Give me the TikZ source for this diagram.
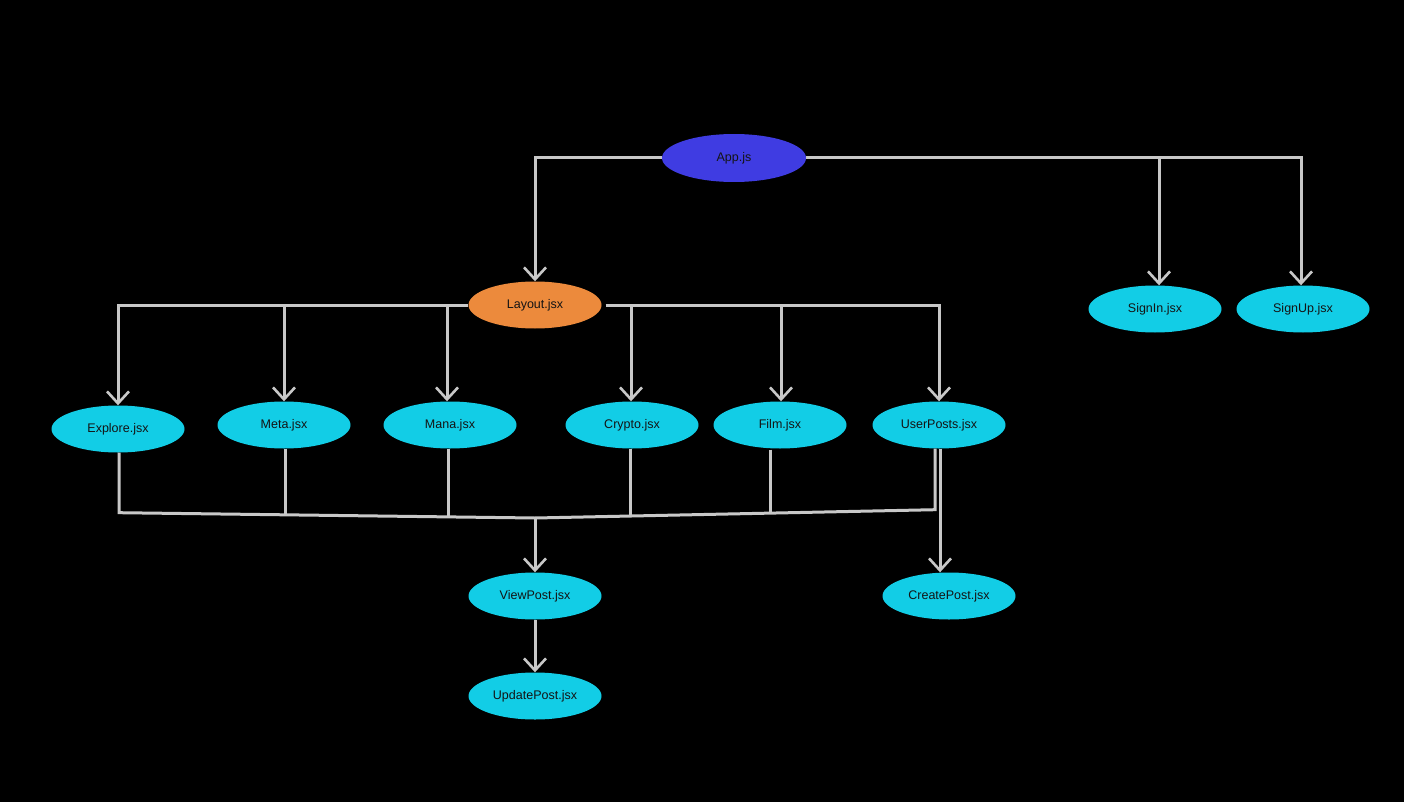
\documentclass[tikz,border=0pt]{standalone}
\usepackage{fontspec}
\setmainfont{Liberation Sans}
\usetikzlibrary{shapes.geometric,arrows.meta,calc}
\definecolor{bgc}{HTML}{000000}
\definecolor{appc}{HTML}{3F3CE2}
\definecolor{layc}{HTML}{EC8A3C}
\definecolor{cyc}{HTML}{12CDE6}
\definecolor{linec}{HTML}{C8C8C8}
\definecolor{txtc}{HTML}{141414}
\begin{document}
\begin{tikzpicture}[x=1pt,y=-1pt,
  comp/.style={ellipse,draw=none,fill=cyc,minimum width=133pt,minimum height=47pt,inner sep=0pt,text=txtc,font=\fontsize{12.5}{14}\selectfont},
  conn/.style={draw=linec,line width=3pt},
  arr/.style={conn,-{Straight Barb[length=12pt,width=22pt,line width=2.6pt]}}]
\useasboundingbox[fill=bgc] (0,0) rectangle (1404,802);
% nodes
\node[comp,fill=appc,minimum width=144pt,minimum height=48pt] (app) at (734,158) {App.js};
\node[comp,fill=layc] (layout) at (535,305) {Layout.jsx};
\node[comp] (signin) at (1155,309) {SignIn.jsx};
\node[comp] (signup) at (1303,309) {SignUp.jsx};
\node[comp] (explore) at (118,429) {Explore.jsx};
\node[comp] (meta) at (284,425) {Meta.jsx};
\node[comp] (mana) at (450,425) {Mana.jsx};
\node[comp] (crypto) at (632,425) {Crypto.jsx};
\node[comp] (film) at (780,425) {Film.jsx};
\node[comp] (userposts) at (939,425) {UserPosts.jsx};
\node[comp] (viewpost) at (535,596) {ViewPost.jsx};
\node[comp] (createpost) at (949,596) {CreatePost.jsx};
\node[comp] (updatepost) at (535,696) {UpdatePost.jsx};
% App connectors
\draw[arr] (app.west) -| (layout.north);
\draw[arr] (app.east) -| ([xshift=-2pt]signup.north);
\draw[arr] ([xshift=4pt]signin.north |- app.east) -- ([xshift=4pt]signin.north);
% Layout connectors
\draw[arr] (layout.west) -| (explore.north);
\draw[arr] (meta.north |- layout.west) -- (meta.north);
\draw[arr] ([xshift=-3pt]mana.north |- layout.west) -- ([xshift=-3pt]mana.north);
\draw[arr] ([xshift=4pt]layout.east) -| (userposts.north);
\draw[arr] ([xshift=-1pt]crypto.north |- layout.east) -- ([xshift=-1pt]crypto.north);
\draw[arr] ([xshift=1pt]film.north |- layout.east) -- ([xshift=1pt]film.north);
% merge to ViewPost
\coordinate (j1) at ($(explore.south)+(1,60)$);
\coordinate (j2) at ($(meta.south)+(1,66)$);
\coordinate (j3) at ($(mana.south)+(-2,68)$);
\coordinate (jm) at (535,518);
\coordinate (j4) at ($(crypto.south)+(-2,68)$);
\coordinate (j5) at ($(film.south)+(-10,65)$);
\coordinate (j6) at ($(userposts.south)+(-4,61)$);
\draw[conn,line join=miter] ([xshift=1pt]explore.south) -- (j1) -- (jm) -- (j6) -- ([xshift=-4pt]userposts.south);
\draw[conn] ([xshift=1pt]meta.south) -- (j2);
\draw[conn] ([xshift=-2pt]mana.south) -- (j3);
\draw[conn] ([xshift=-2pt]crypto.south) -- (j4);
\draw[conn] ([xshift=-10pt,yshift=-1pt]film.south) -- (j5);
\draw[arr] (jm) -- (viewpost.north);
% UserPosts to CreatePost
\draw[arr] ([xshift=1pt]userposts.south) -- ([xshift=1pt]userposts.south |- createpost.north);
% ViewPost to UpdatePost
\draw[arr] (viewpost.south) -- (updatepost.north);
\end{tikzpicture}
\end{document}
